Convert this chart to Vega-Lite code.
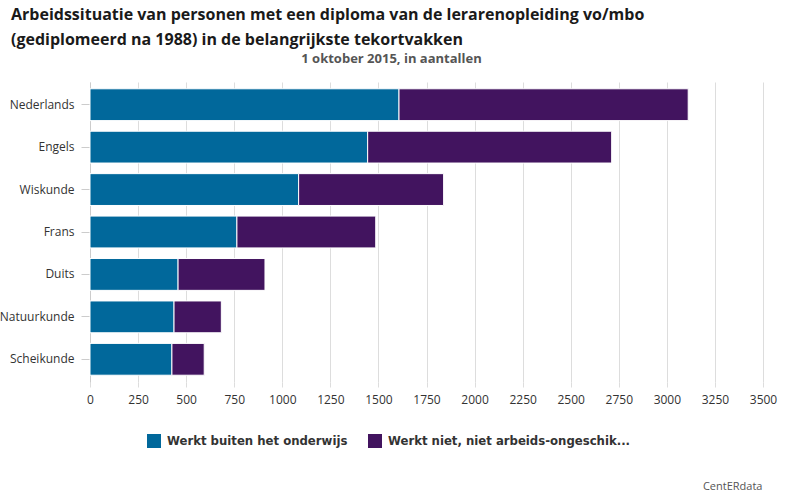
{
  "$schema": "https://vega.github.io/schema/vega-lite/v6.json",
  "width": 673,
  "height": 300,
  "autosize": {"type": "none"},
  "padding": {"left": 90, "top": 82, "right": 37, "bottom": 112},
  "background": "white",
  "title": {
    "text": ["Arbeidssituatie van personen met een diploma van de lerarenopleiding vo/mbo", "(gediplomeerd na 1988) in de belangrijkste tekortvakken"],
    "anchor": "start",
    "frame": "group",
    "dx": -79,
    "offset": 4,
    "font": "Open Sans",
    "fontSize": 16,
    "fontWeight": "bold",
    "color": "#1a1a1a",
    "lineHeight": 25
  },
  "data": {
    "values": [
      {"vak": "Nederlands", "situatie": "Werkt buiten het onderwijs", "aantal": 1607},
      {"vak": "Nederlands", "situatie": "Werkt niet, niet arbeids-ongeschik...", "aantal": 1504},
      {"vak": "Engels", "situatie": "Werkt buiten het onderwijs", "aantal": 1444},
      {"vak": "Engels", "situatie": "Werkt niet, niet arbeids-ongeschik...", "aantal": 1269},
      {"vak": "Wiskunde", "situatie": "Werkt buiten het onderwijs", "aantal": 1085},
      {"vak": "Wiskunde", "situatie": "Werkt niet, niet arbeids-ongeschik...", "aantal": 754},
      {"vak": "Frans", "situatie": "Werkt buiten het onderwijs", "aantal": 764},
      {"vak": "Frans", "situatie": "Werkt niet, niet arbeids-ongeschik...", "aantal": 722},
      {"vak": "Duits", "situatie": "Werkt buiten het onderwijs", "aantal": 458},
      {"vak": "Duits", "situatie": "Werkt niet, niet arbeids-ongeschik...", "aantal": 452},
      {"vak": "Natuurkunde", "situatie": "Werkt buiten het onderwijs", "aantal": 437},
      {"vak": "Natuurkunde", "situatie": "Werkt niet, niet arbeids-ongeschik...", "aantal": 246},
      {"vak": "Scheikunde", "situatie": "Werkt buiten het onderwijs", "aantal": 426},
      {"vak": "Scheikunde", "situatie": "Werkt niet, niet arbeids-ongeschik...", "aantal": 168}
    ]
  },
  "layer": [
    {
      "mark": {"type": "bar", "stroke": "white", "strokeWidth": 1},
      "encoding": {
        "y": {
          "field": "vak",
          "type": "nominal",
          "sort": null,
          "scale": {"paddingInner": 0.25, "paddingOuter": 0.16},
          "axis": {
            "title": null,
            "labelFont": "Open Sans",
            "labelFontSize": 12,
            "labelColor": "#333333",
            "labelPadding": 7,
            "tickSize": 9,
            "tickColor": "#cccccc",
            "domainColor": "#cccccc",
            "grid": false
          }
        },
        "x": {
          "field": "aantal",
          "type": "quantitative",
          "stack": "zero",
          "scale": {"domain": [0, 3500], "nice": false},
          "axis": {
            "orient": "bottom",
            "values": [0, 250, 500, 750, 1000, 1250, 1500, 1750, 2000, 2250, 2500, 2750, 3000, 3250, 3500],
            "format": "d",
            "title": "CentERdata",
            "titleFont": "Open Sans",
            "titleFontSize": 11,
            "titleFontWeight": "normal",
            "titleColor": "#555555",
            "titleAnchor": "end",
            "titleAlign": "right",
            "titleBaseline": "alphabetic",
            "titleX": 672,
            "titleY": 107,
            "labelFont": "Open Sans",
            "labelFontSize": 12,
            "labelColor": "#333333",
            "labelPadding": 7,
            "labelFlush": false,
            "labelOverlap": false,
            "tickSize": 5,
            "tickColor": "#dddddd",
            "domain": false,
            "grid": true,
            "gridColor": "#dddddd",
            "gridWidth": 1
          }
        },
        "color": {
          "field": "situatie",
          "type": "nominal",
          "scale": {
            "domain": ["Werkt buiten het onderwijs", "Werkt niet, niet arbeids-ongeschik..."],
            "range": ["#01689b", "#42145f"]
          },
          "legend": {
            "title": null,
            "orient": "none",
            "direction": "horizontal",
            "legendX": 57,
            "legendY": 352,
            "padding": 0,
            "symbolType": "square",
            "symbolSize": 196,
            "symbolStrokeWidth": 0,
            "symbolOffset": 0,
            "labelFont": "DejaVu Sans Condensed",
            "labelFontSize": 13,
            "labelFontWeight": "bold",
            "labelColor": "#333333",
            "labelOffset": 6,
            "labelLimit": 400,
            "columnPadding": 20
          }
        }
      }
    },
    {
      "mark": {"type": "rule", "opacity": 0},
      "encoding": {
        "x": {
          "field": "aantal",
          "type": "quantitative",
          "axis": {
            "orient": "top",
            "title": "1 oktober 2015, in aantallen",
            "titleFont": "Open Sans",
            "titleFontSize": 13,
            "titleFontWeight": "bold",
            "titleColor": "#555555",
            "titleX": 301,
            "titleAlign": "center",
            "titlePadding": 17,
            "labels": false,
            "ticks": false,
            "domain": false,
            "grid": false
          }
        }
      }
    }
  ],
  "resolve": {"axis": {"x": "independent"}},
  "config": {"view": {"stroke": null}}
}
